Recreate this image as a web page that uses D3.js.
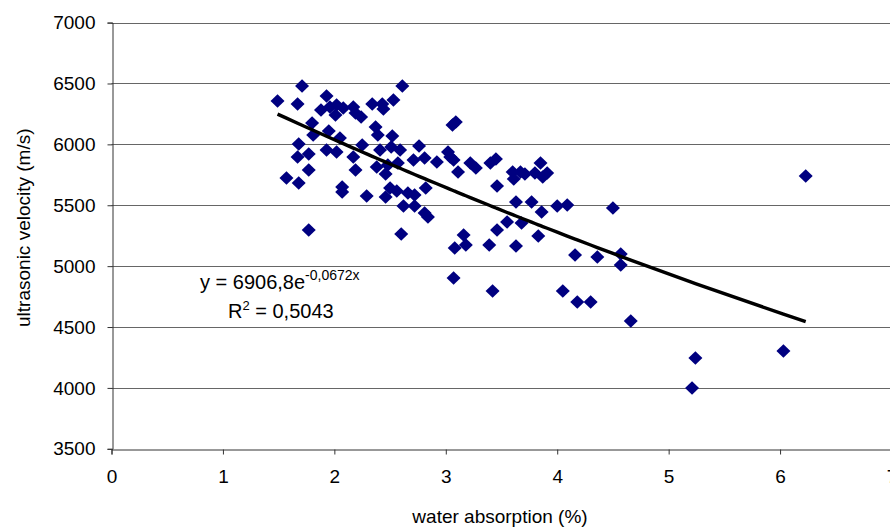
<!DOCTYPE html>
<html lang="en">
<head>
  <meta charset="UTF-8">
  <title>Ultrasonic velocity vs water absorption</title>
  <script src="https://d3js.org/d3.v7.min.js"></script>
  <style>
    body { margin: 0; background: #fff; }
    svg { display: block; font-family: Arial, "Liberation Sans", sans-serif; }
  </style>
</head>
<body>
  <script>
    // measured samples: water absorption (%) and ultrasonic velocity (m/s)
    const absorption = [
      1.49, 1.67, 1.71, 1.93, 1.88, 1.96, 2.02, 2.01, 2.08, 2.17, 2.19, 2.24, 2.34, 2.43, 2.44, 2.53, 2.61,
      1.80, 1.81, 1.95, 2.05, 2.37, 2.39, 2.52, 1.68, 1.67, 1.77, 1.93, 2.02, 2.17, 2.25, 2.41, 2.51, 2.59,
      1.77, 2.19, 2.38, 2.48, 1.57, 1.68, 2.07, 2.07, 2.29, 2.46, 2.50, 2.46, 2.56, 1.77, 2.60, 2.62, 2.72,
      2.81, 2.84, 2.66, 2.72, 2.76, 2.71, 2.81, 2.57, 2.92, 2.82,
      3.06, 3.09, 3.02, 3.04, 3.07, 3.11, 3.22, 3.27, 3.40, 3.45, 3.46, 3.60, 3.67, 3.71, 3.61, 3.80, 3.85,
      3.87, 3.91, 3.63, 3.77, 3.86, 4.00, 4.09, 4.50, 3.55, 3.68, 3.46, 3.16, 3.18, 3.08, 3.39, 3.63, 3.83,
      3.07, 3.42, 4.05, 4.16, 4.36, 4.57, 4.57, 4.18, 4.30, 4.66, 5.24, 5.21, 6.03, 6.23
    ];
    const velocity = [
      6356, 6332, 6479, 6397, 6282, 6307, 6323, 6241, 6299, 6307, 6258, 6225, 6332, 6332, 6290, 6364, 6479,
      6175, 6077, 6110, 6052, 6143, 6077, 6069, 6003, 5896, 5921, 5954, 5937, 5896, 5995, 5954, 5978, 5954,
      5790, 5790, 5814, 5831, 5724, 5683, 5650, 5609, 5576, 5757, 5642, 5568, 5617, 5297, 5264, 5494, 5494,
      5436, 5404, 5601, 5584, 5987, 5872, 5888, 5847, 5855, 5642,
      6159, 6184, 5937, 5896, 5872, 5773, 5847, 5806, 5847, 5880, 5658, 5773, 5773, 5757, 5716, 5765, 5847,
      5732, 5765, 5527, 5527, 5445, 5494, 5502, 5478, 5363, 5354, 5297, 5256, 5174, 5149, 5174, 5165, 5248,
      4903, 4796, 4796, 5092, 5075, 5100, 5009, 4706, 4706, 4550, 4246, 3999, 4303, 5740
    ];

    // exponential trendline as reported on the chart
    const fitA = 6906.8;
    const fitB = -0.0672;
    const eqMain = "y = 6906,8e";
    const eqExp = "-0,0672x";
    const rSquared = "0,5043";

    const xTicks = [0, 1, 2, 3, 4, 5, 6, 7];
    const yTicks = [3500, 4000, 4500, 5000, 5500, 6000, 6500, 7000];

    const width = 890;
    const height = 528;
    const margin = { top: 22.6, left: 111.5 };

    const x = d3.scaleLinear().domain([0, 7]).range([margin.left, 891.5]);
    const y = d3.scaleLinear().domain([3500, 7000]).range([448.8, margin.top]);

    const svg = d3.select("body").append("svg")
      .attr("width", width)
      .attr("height", height);

    // horizontal gridlines
    svg.append("g")
      .selectAll("line")
      .data(yTicks.slice(1))
      .enter()
      .append("line")
      .attr("x1", x(0))
      .attr("x2", width)
      .attr("y1", d => Math.round(y(d)) + 0.5)
      .attr("y2", d => Math.round(y(d)) + 0.5)
      .attr("stroke", "#666")
      .attr("stroke-width", 1);

    // y axis
    const yAxis = d3.axisLeft(y).tickValues(yTicks).tickFormat(d3.format("d")).tickSize(5).tickPadding(12);
    const gy = svg.append("g")
      .attr("transform", `translate(${Math.round(x(0)) + 0.5},0)`)
      .call(yAxis);
    gy.selectAll("text").attr("font-size", 19).attr("fill", "#000");

    // x axis
    const xAxis = d3.axisBottom(x).tickValues(xTicks).tickFormat(d3.format("d")).tickSize(5).tickPadding(15);
    const gx = svg.append("g")
      .attr("transform", `translate(0,${Math.round(y(3500)) + 0.5})`)
      .call(xAxis);
    gx.selectAll("text").attr("font-size", 19).attr("fill", "#000");

    [gx, gy].forEach(g => {
      g.selectAll("path, line").attr("stroke", "#333");
      g.attr("font-family", null);
    });

    // axis titles
    svg.append("text")
      .attr("x", 500)
      .attr("y", 523)
      .attr("text-anchor", "middle")
      .attr("font-size", 19)
      .text("water absorption (%)");

    svg.append("text")
      .attr("transform", `translate(30,${(y(3500) + y(7000)) / 2 - 8}) rotate(-90)`)
      .attr("text-anchor", "middle")
      .attr("font-size", 19)
      .text("ultrasonic velocity (m/s)");

    // data points
    const points = absorption.map((a, i) => ({ a: a, v: velocity[i] }));
    const diamond = "M0,-6.8L7,0L0,6.8L-7,0Z";

    svg.append("g")
      .selectAll("path")
      .data(points)
      .enter()
      .append("path")
      .attr("d", diamond)
      .attr("transform", d => `translate(${x(d.a)},${y(d.v)})`)
      .attr("fill", "#000080");

    // trendline drawn through the sorted sample x values
    const trendX = absorption.slice().sort(d3.ascending);
    const line = d3.line()
      .x(d => x(d))
      .y(d => y(fitA * Math.exp(fitB * d)));

    svg.append("path")
      .datum(trendX)
      .attr("d", line)
      .attr("fill", "none")
      .attr("stroke", "#000")
      .attr("stroke-width", 3.4);

    // equation label
    const eq = svg.append("text")
      .attr("x", 200)
      .attr("y", 289)
      .attr("font-size", 20);
    eq.append("tspan").text(eqMain);
    eq.append("tspan")
      .attr("font-size", 14)
      .attr("dy", -9)
      .text(eqExp);

    const r2 = svg.append("text")
      .attr("x", 228)
      .attr("y", 318)
      .attr("font-size", 20);
    r2.append("tspan").text("R");
    r2.append("tspan").attr("font-size", 13).attr("dy", -8).text("2");
    r2.append("tspan").attr("dy", 8).text(" = " + rSquared);
  </script>
</body>
</html>
